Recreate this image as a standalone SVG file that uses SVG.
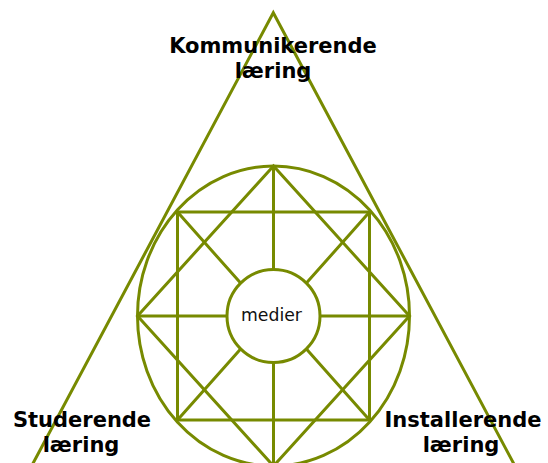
<svg xmlns="http://www.w3.org/2000/svg" width="548" height="463" viewBox="0 0 548 463">
<style>
.ln{fill:none;stroke:#778A00;stroke-width:3;stroke-linejoin:miter}
.lbl{font-family:"DejaVu Sans",Verdana,sans-serif;font-weight:bold;font-size:21px;fill:#000;text-anchor:middle}
.ctr{font-family:"DejaVu Sans",Verdana,sans-serif;font-size:17.3px;fill:#111;text-anchor:middle}
</style>
<rect width="548" height="463" fill="#fff"/>
<g id="connectors">
<path class="ln" d="M30,469 L273.3,12.7 L516.6,469"/>
<ellipse class="ln" cx="273.5" cy="316" rx="136" ry="150"/>
<path class="ln" d="M273.5,166 L137.5,316 L273.5,466 L409.5,316 Z"/>
<rect class="ln" x="177.5" y="212" width="192" height="208"/>
<path class="ln" d="M273.5,166 V269 M273.5,363 V466 M137.5,316 H227 M320,316 H409.5 M177.5,212 L240.6,283.1 M369.5,212 L306.4,283.1 M177.5,420 L240.6,348.9 M369.5,420 L306.4,348.9"/>
</g>
<g id="node-medier">
<circle class="ln" cx="273.5" cy="316" r="46.5" fill="#fff"/>
<text class="ctr" x="271.5" y="321">medier</text>
</g>
<g id="node-kommunikerende">
<text class="lbl" x="273" y="53">Kommunikerende</text>
<text class="lbl" x="273" y="78">læring</text>
</g>
<g id="node-studerende">
<text class="lbl" x="82" y="427">Studerende</text>
<text class="lbl" x="81" y="452">læring</text>
</g>
<g id="node-installerende">
<text class="lbl" x="463" y="427">Installerende</text>
<text class="lbl" x="461" y="452">læring</text>
</g>
</svg>
